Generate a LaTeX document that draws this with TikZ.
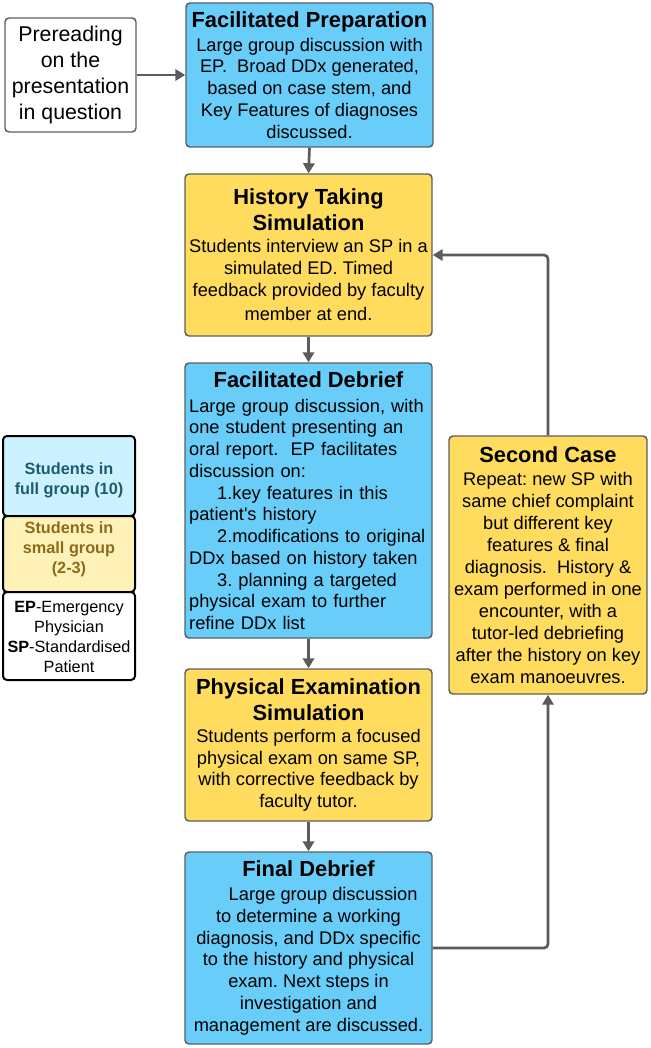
\documentclass[tikz,border=0pt]{standalone}
\usepackage{fontspec}
\defaultfontfeatures{}
\setmainfont{Liberation Sans}
\usetikzlibrary{arrows.meta}
\definecolor{bluebox}{HTML}{68CDF8}
\definecolor{yelbox}{HTML}{FFDB5E}
\definecolor{legblue}{HTML}{CCF2FF}
\definecolor{legyel}{HTML}{FFF2B8}
\definecolor{legteal}{HTML}{1F5B70}
\definecolor{legolive}{HTML}{8C6B1A}
\definecolor{boxborder}{HTML}{5C5F63}
\definecolor{arrgray}{HTML}{5B5B5B}
\newcommand\bodyf{\fontsize{13.7}{16.3}\selectfont\frenchspacing}
\newcommand\ttlf{\fontsize{16.4}{19.5}\selectfont\bfseries}
\newcommand\legf{\fontsize{12.2}{15}\selectfont\frenchspacing}
\newcommand\pref{\fontsize{16}{19.5}\selectfont}
\newcommand\sq{\XeTeXglyph\the\XeTeXcharglyph"27\relax}
\tikzset{
  box/.style={draw=boxborder, line width=1.1pt, rounded corners=3pt, inner sep=2pt, align=center, font=\bodyf, text=black},
  bluestep/.style={box, fill=bluebox, minimum width=185.25pt},
  yelstep/.style={box, fill=yelbox, minimum width=185.25pt},
  arr/.style={draw=arrgray, line width=2pt, rounded corners=3pt, -{Triangle[length=7.5pt,width=8.5pt]}},
  legbox/.style={draw=black, line width=1.5pt, rounded corners=3pt, minimum width=99pt, inner sep=0pt},
  legtext/.style={align=center, font=\legf, inner sep=0pt}
}
\begin{document}
\begin{tikzpicture}[x=0.75pt,y=-0.75pt]
\useasboundingbox (0,0) rectangle (650,1048);
% main flow
\node[box, fill=white, minimum width=98.25pt, minimum height=85.5pt, font=\pref] (pre) at (70.5,75)
  {Prereading\\on the\\presentation\\in question};
\node[bluestep, minimum height=108pt] (fp) at (309.5,75)
  {{\ttlf Facilitated Preparation}\\[1.5pt]
   Large group discussion with\\
   EP.\ \ Broad DDx generated,\\
   based on case stem, and\\
   Key Features of diagnoses\\
   discussed.};
\node[yelstep, minimum height=121.5pt] (ht) at (308.5,255)
  {{\ttlf History Taking}\\[3pt]
   {\ttlf Simulation}\\[0.5pt]
   Students interview an SP in a\\
   simulated ED. Timed\\
   feedback provided by faculty\\[2pt]
   member at end.};
\node[bluestep, minimum height=206.25pt, text width=179pt, inner xsep=1.5pt, align=left] (fd) at (308.5,500.5)
  {\hyphenpenalty=10000\exhyphenpenalty=10000
   {\centering\ttlf Facilitated Debrief\par}\vspace{2.5pt}
   Large group discussion, with\\
   one student presenting an\\
   oral report.\ \ EP facilitates\\
   discussion on:\\
   \hspace*{21pt}1.key features in this\\
   patient\sq s history\\
   \hspace*{21pt}2.modifications to original\\
   DDx based on history taken\\
   \hspace*{21pt}3. planning a targeted\\
   physical exam to further\\
   refine DDx list};
\node[yelstep, minimum height=114pt] (pe) at (308.5,745)
  {{\ttlf Physical Examination}\\[3pt]
   {\ttlf Simulation}\\[0.5pt]
   Students perform a focused\\
   physical exam on same SP,\\
   with corrective feedback by\\
   faculty tutor.};
\node[bluestep, minimum height=144pt] (fin) at (308.5,948)
  {{\ttlf Final Debrief}\\[1.5pt]
   \hspace*{22pt}Large group discussion\\
   to determine a working\\
   diagnosis, and DDx specific\\
   to the history and physical\\
   exam. Next steps in\\
   investigation and\\
   management are discussed.};
\node[box, fill=yelbox, minimum width=148.5pt, minimum height=193.5pt] (sc) at (548,565)
  {{\ttlf Second Case}\\[1pt]
   Repeat: new SP with\\[0.2pt]
   same chief complaint\\[0.2pt]
   but different key\\[0.2pt]
   features \& final\\[0.2pt]
   diagnosis.\ \ History \&\\[0.2pt]
   exam performed in one\\[0.2pt]
   encounter, with a\\[0.2pt]
   tutor-led debriefing\\[0.2pt]
   after the history on key\\[0.2pt]
   exam manoeuvres.};
% legend
\node[legbox, fill=legblue, minimum height=60pt] (lg1) at (69,476) {};
\node[legbox, fill=legyel, minimum height=57pt] (lg2) at (69,554) {};
\node[legbox, fill=white, minimum height=66pt] (lg3) at (69,636) {};
\node[legtext, text=legteal, font=\legf\bfseries] (lg1t) at (69,480)
  {Students in\\full group (10)};
\node[legtext, text=legolive, font=\legf\bfseries] (lg2t) at (69,549)
  {Students in\\small group\\(2-3)};
\node[legtext, text=black] (lg3t) at (69,637)
  {\textbf{EP}-Emergency\\Physician\\\textbf{SP}-Standardised\\Patient};
% connectors
\draw[arr] (pre.east) -- (fp.west);
\draw[arr] (fp.south) -- (ht.north);
\draw[arr] (ht.south) -- (fd.north);
\draw[arr] (fd.south) -- (pe.north);
\draw[arr] (pe.south) -- (fin.north);
\draw[arr] (fin.east) -| (sc.south);
\draw[arr] (sc.north) |- (ht.east);
\end{tikzpicture}
\end{document}
